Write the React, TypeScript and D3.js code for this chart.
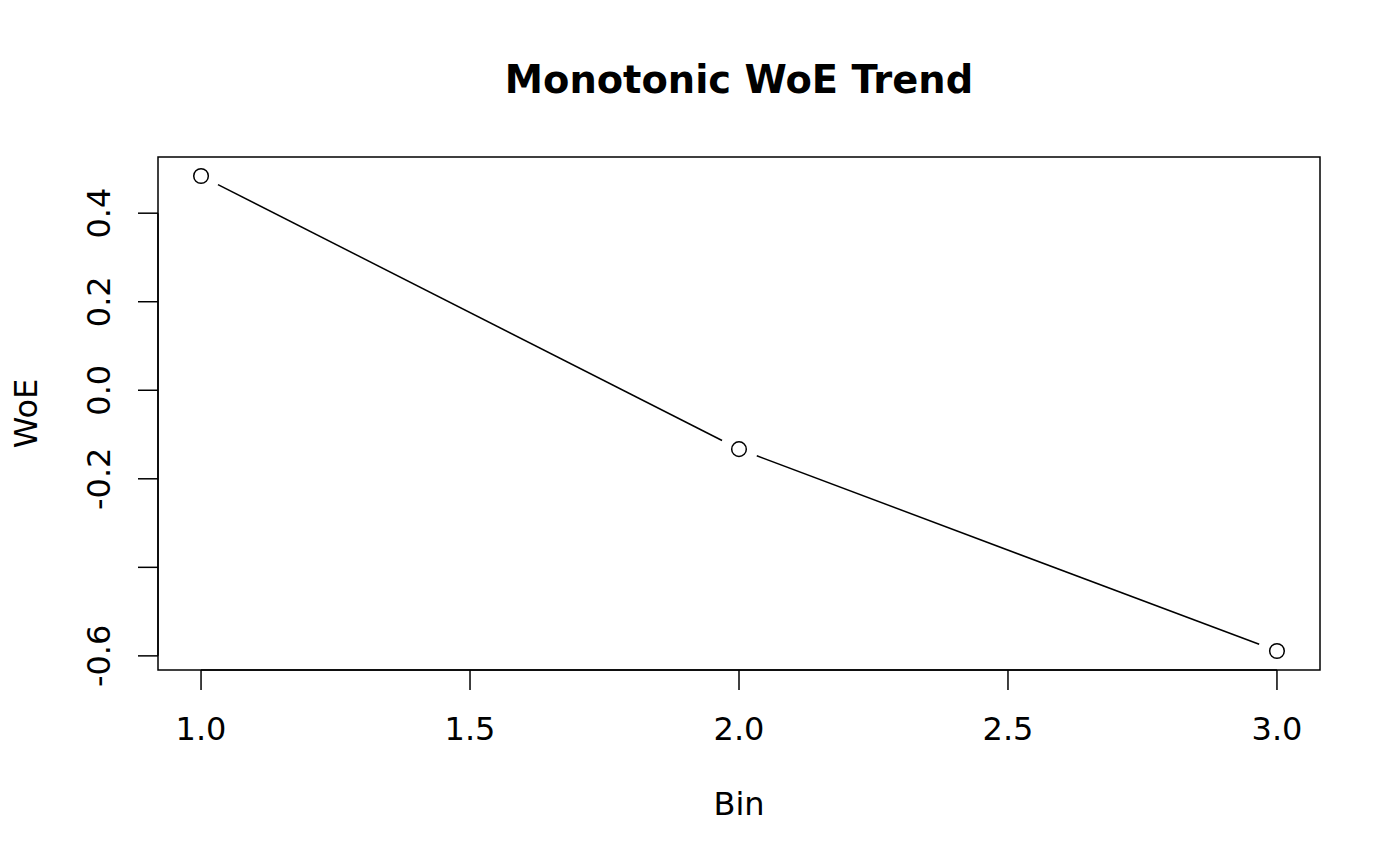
import React from 'react';
import * as d3 from 'd3';

const bins = [1, 2, 3];
const woe = [0.484, -0.133, -0.589];
const xTicks = [1, 1.5, 2, 2.5, 3];
const xTickLabels = ['1.0', '1.5', '2.0', '2.5', '3.0'];
const yTicks = [-0.6, -0.4, -0.2, 0, 0.2, 0.4];
// R drops the -0.4 label because it would overlap its neighbours
const yTickLabels = ['-0.6', '', '-0.2', '0.0', '0.2', '0.4'];

const W = 1400;
const H = 866;
const box = { left: 158, right: 1320, top: 157, bottom: 670 };
const font = 'DejaVu Sans, sans-serif';
const labelSize = 32;
const tickLen = 20;
const gap = 19;

// R style 4% padding around the data range
const pad = (lo: number, hi: number) => {
  const d = (hi - lo) * 0.04;
  return [lo - d, hi + d];
};

const App = () => {
  const x = d3.scaleLinear().domain(pad(d3.min(bins)!, d3.max(bins)!)).range([box.left, box.right]);
  const y = d3.scaleLinear().domain(pad(d3.min(woe)!, d3.max(woe)!)).range([box.bottom, box.top]);

  const pts = bins.map((b, i) => [x(b), y(woe[i])]);
  // type = "b": segments stop short of each point
  const segs = pts.slice(1).map((p, i) => {
    const q = pts[i];
    const dx = p[0] - q[0];
    const dy = p[1] - q[1];
    const len = Math.hypot(dx, dy);
    const ux = dx / len;
    const uy = dy / len;
    return [q[0] + ux * gap, q[1] + uy * gap, p[0] - ux * gap, p[1] - uy * gap];
  });

  return (
    <svg width={W} height={H} style={{ position: 'absolute', left: 0, top: 0, background: '#fff' }} fontFamily={font}>
      <text x={(box.left + box.right) / 2} y={93} textAnchor="middle" fontWeight="bold" fontSize={38.4}>
        Monotonic WoE Trend
      </text>

      <rect x={box.left} y={box.top} width={box.right - box.left} height={box.bottom - box.top}
        fill="none" stroke="#000" strokeWidth={1.5} />

      {/* x axis */}
      <line x1={x(xTicks[0])} x2={x(xTicks[xTicks.length - 1])} y1={box.bottom} y2={box.bottom} stroke="#000" strokeWidth={1.5} />
      {xTicks.map((t, i) => (
        <g key={'x' + i}>
          <line x1={x(t)} x2={x(t)} y1={box.bottom} y2={box.bottom + tickLen} stroke="#000" strokeWidth={1.5} />
          <text x={x(t)} y={740} textAnchor="middle" fontSize={labelSize}>{xTickLabels[i]}</text>
        </g>
      ))}
      <text x={(box.left + box.right) / 2} y={815} textAnchor="middle" fontSize={labelSize}>Bin</text>

      {/* y axis */}
      <line x1={box.left} x2={box.left} y1={y(yTicks[0])} y2={y(yTicks[yTicks.length - 1])} stroke="#000" strokeWidth={1.5} />
      {yTicks.map((t, i) => (
        <g key={'y' + i}>
          <line x1={box.left - tickLen} x2={box.left} y1={y(t)} y2={y(t)} stroke="#000" strokeWidth={1.5} />
          {yTickLabels[i] && (
            <text transform={`translate(110,${y(t)}) rotate(-90)`} textAnchor="middle" fontSize={labelSize}>
              {yTickLabels[i]}
            </text>
          )}
        </g>
      ))}
      <text transform={`translate(37,${(box.top + box.bottom) / 2}) rotate(-90)`} textAnchor="middle" fontSize={labelSize}>WoE</text>

      {segs.map((s, i) => (
        <line key={'s' + i} x1={s[0]} y1={s[1]} x2={s[2]} y2={s[3]} stroke="#000" strokeWidth={1.5} />
      ))}
      {pts.map((p, i) => (
        <circle key={'p' + i} cx={p[0]} cy={p[1]} r={7.3} fill="none" stroke="#000" strokeWidth={1.5} />
      ))}
    </svg>
  );
};

export default App;
